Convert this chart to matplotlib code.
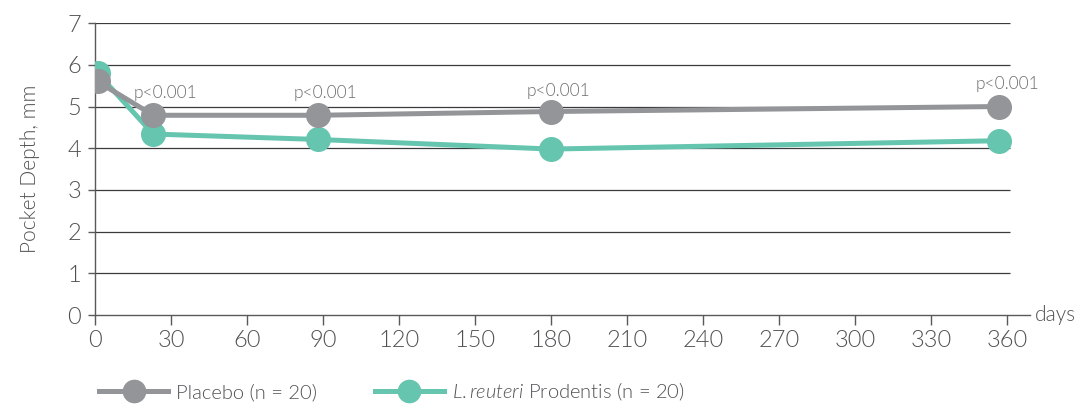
import matplotlib
matplotlib.use('Agg')
import matplotlib.pyplot as plt
from matplotlib.lines import Line2D

plt.rcParams['font.family'] = ['Lato', 'DejaVu Sans']
plt.rcParams['font.weight'] = 300
plt.rcParams['axes.labelweight'] = 300
plt.rcParams['mathtext.fontset'] = 'custom'
plt.rcParams['mathtext.it'] = 'Lato:italic'
plt.rcParams['mathtext.rm'] = 'Lato'

# dados
days = [1, 23, 88, 180, 357]
placebo = [5.6, 4.79, 4.79, 4.88, 5.0]
reuteri = [5.8, 4.34, 4.21, 3.98, 4.18]
p_days = [28, 91, 183, 360]
p_texts = ['p<0.001', 'p<0.001', 'p<0.001', 'p<0.001']
p_y = [5.33, 5.33, 5.38, 5.54]
x_ticks = list(range(0, 361, 30))
y_ticks = list(range(0, 8))

gray = '#939598'
teal = '#66c5ae'
axis_col = '#58595b'
text_col = '#505153'

fig = plt.figure(figsize=(10.82, 4.05), dpi=100)
ax = fig.add_axes([0.0878, 0.222, 0.864, 0.721])

ax.hlines(y_ticks[1:], 0, 361, color='#3a3a3c', linewidth=0.9, zorder=1)
ax.plot(days, reuteri, color=teal, lw=3.6, marker='o', ms=17, zorder=3)
ax.plot(days, placebo, color=gray, lw=3.6, marker='o', ms=17, zorder=4)

for d, t, yy in zip(p_days, p_texts, p_y):
    ax.text(d, yy, t, ha='center', va='center', fontsize=12.5, color='#6d6e71')

ax.set_xlim(0, 369)
ax.set_ylim(0, 7)
ax.set_xticks(x_ticks)
ax.set_yticks(y_ticks)
for s in ['top', 'right']:
    ax.spines[s].set_visible(False)
for s in ['left', 'bottom']:
    ax.spines[s].set_color(axis_col)
    ax.spines[s].set_linewidth(1.0)
ax.spines['left'].set_bounds(0, 7)
ax.tick_params(axis='x', length=7, width=1, color=axis_col, labelsize=17,
               labelcolor=text_col, pad=4)
ax.tick_params(axis='y', length=5, width=1, color=axis_col, labelsize=17,
               labelcolor=text_col, pad=5)
ax.set_ylabel('Pocket Depth, mm', fontsize=15, color=text_col, labelpad=20,
              fontweight=300)
ax.text(1.005, 0, 'days', transform=ax.transAxes, ha='left', va='center',
        fontsize=15, color=text_col)

handles = [
    Line2D([], [], color=gray, lw=3.6, marker='o', ms=16),
    Line2D([], [], color=teal, lw=3.6, marker='o', ms=16),
]
labels = ['Placebo (n = 20)', r'$\mathit{L.reuteri}$ Prodentis (n = 20)']
fig.legend(handles, labels, loc='center left', bbox_to_anchor=(0.075, 0.032),
           ncol=2, frameon=False, fontsize=14.5, handlelength=3.4,
           columnspacing=2.9, handletextpad=0.4, labelcolor=text_col)

plt.savefig('out.png', dpi=100)
plt.close('all')
